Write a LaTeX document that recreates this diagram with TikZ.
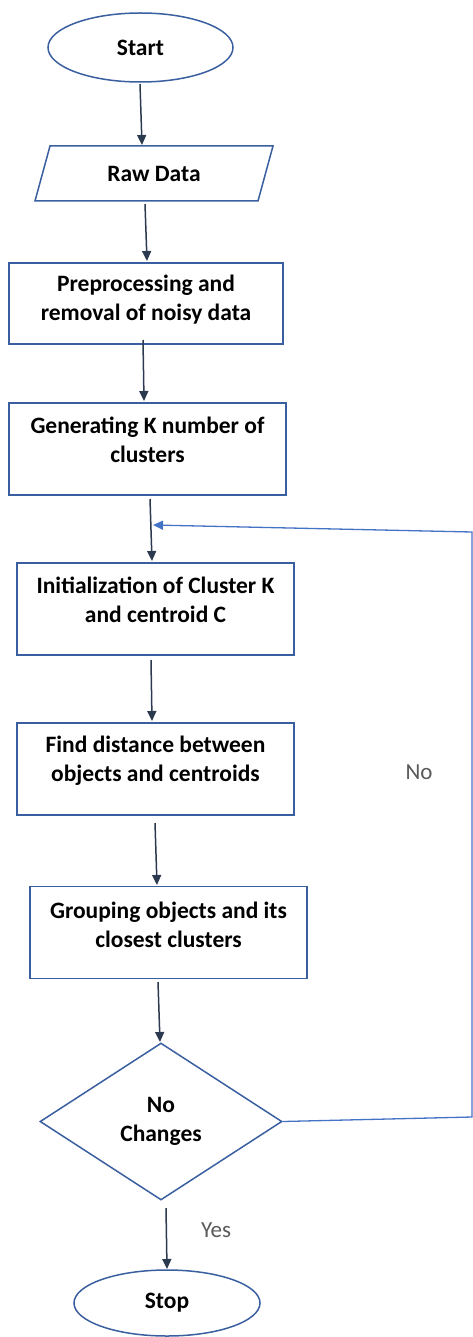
\documentclass[tikz,border=0pt]{standalone}
\usepackage{fontspec}
\setmainfont{Carlito}
\usetikzlibrary{shapes.geometric,arrows.meta}
\definecolor{shapeblue}{HTML}{3A5FA0}
\definecolor{loopblue}{HTML}{4472C4}
\definecolor{arrowdark}{HTML}{2B3A4F}
\definecolor{labelgray}{HTML}{595959}
\tikzset{
  x=1pt,y=-1pt,
  shp/.style={draw=shapeblue,line width=1.5pt},
  boxnode/.style={shp,rectangle,minimum width=277pt,minimum height=92pt,inner sep=0pt},
  txt/.style={font=\fontsize{23.5}{29}\selectfont\bfseries,align=center,inner sep=0pt},
  arr/.style={draw=arrowdark,line width=1.5pt,-{Triangle[length=10pt,width=9pt]}},
  looparr/.style={draw=loopblue,line width=1.3pt,-{Triangle[length=10pt,width=9pt]}},
  lbl/.style={font=\fontsize{23}{27}\selectfont,text=labelgray,inner sep=0pt},
}
\begin{document}
\begin{tikzpicture}
\useasboundingbox (0,0) rectangle (473,1337);
% Start
\node[shp,ellipse,minimum width=185pt,minimum height=69pt,inner sep=0pt,txt] (start) at (140.5,47.5) {Start};
% Raw data (parallelogram)
\draw[shp] (50,146) -- (273,146) -- (258,201) -- (35,201) -- cycle;
\node[txt,minimum height=55pt] (raw) at (154,173.5) {Raw Data};
% Boxes
\node[boxnode,minimum width=274pt,minimum height=81pt] (b1) at (146,303.5) {};
\node[txt] (t1) at (146,300) {Preprocessing and\\removal of noisy data};
\node[boxnode] (b2) at (147.5,449) {};
\node[txt] (t2) at (147.5,440) {Generating K number of\\clusters};
\node[boxnode] (b3) at (155.5,609) {};
\node[txt] (t3) at (155.5,600) {Initialization of Cluster K\\and centroid C};
\node[boxnode] (b4) at (155.5,769) {};
\node[txt] (t4) at (155.5,761) {Find distance between\\objects and centroids};
\node[boxnode] (b5) at (168.5,932.5) {};
\node[txt] (t5) at (168.5,925) {Grouping objects and its\\closest clusters};
% Decision
\node[shp,diamond,minimum width=242pt,minimum height=157pt,inner sep=0pt,txt] (dec) at (161,1121.5) {No\\Changes};
% Stop
\node[shp,ellipse,minimum width=186pt,minimum height=66pt,inner sep=0pt,txt] (stop) at (167,1303) {Stop};
% Arrows
\coordinate (a0s) at (140,84);  \coordinate (a0e) at (142,145);
\draw[arr] (a0s) -- (a0e);
\coordinate (a1s) at (145,204); \coordinate (a1e) at (147,261);
\draw[arr] (a1s) -- (a1e);
\coordinate (a2s) at (143,340); \coordinate (a2e) at (144,401);
\draw[arr] (a2s) -- (a2e);
\coordinate (a3s) at (150,499); \coordinate (a3e) at (152,561);
\draw[arr] (a3s) -- (a3e);
\coordinate (a4s) at (151,660); \coordinate (a4e) at (152,721);
\draw[arr] (a4s) -- (a4e);
\coordinate (a5s) at (155,823); \coordinate (a5e) at (157,885);
\draw[arr] (a5s) -- (a5e);
\coordinate (a6s) at (158,982); \coordinate (a6e) at (160,1042);
\draw[arr] (a6s) -- (a6e);
\coordinate (a7s) at (166,1208); \coordinate (a7e) at (167,1269);
\draw[arr] (a7s) -- (a7e);
% Loop back
\coordinate (c1) at (472,1117);
\coordinate (c2) at (472,532);
\coordinate (join) at (153,525);
\draw[looparr] (dec.east) -- (c1) -- (c2) -- (join);
% Labels
\node[lbl] (no) at (419,772) {No};
\node[lbl] (yes) at (216,1230) {Yes};
\end{tikzpicture}
\end{document}
